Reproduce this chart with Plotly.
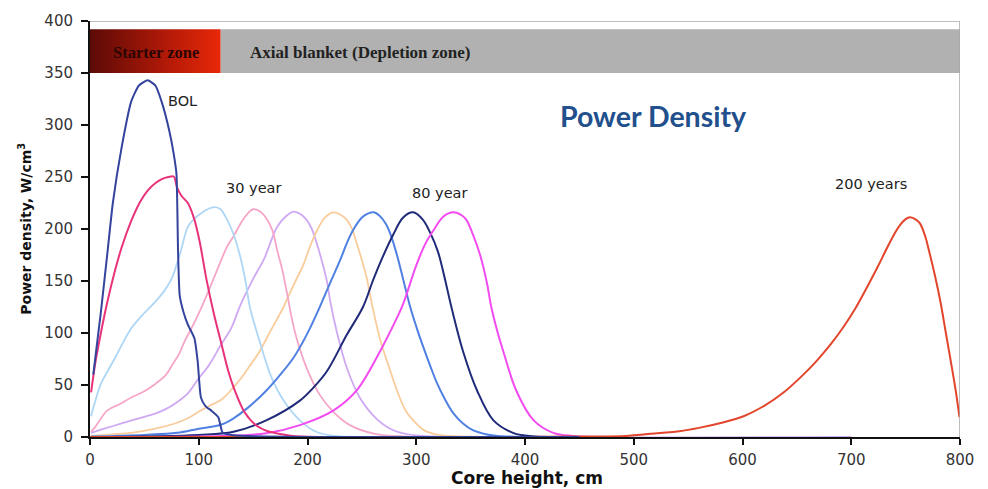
import plotly.graph_objects as go

# Axial power density profiles along the core (W/cm^3 vs. cm)
bol_x = [3, 10, 16, 21, 29, 38, 45, 53, 60, 66, 73, 77, 79.5, 81, 82.5, 86, 90, 96, 99, 102, 106, 112, 118, 122, 130, 145, 160, 200, 300, 450]
bol_y = [60, 120, 177, 225, 278, 323, 338, 343, 338, 322, 294, 272, 253, 177, 136, 120, 108, 95, 73, 38, 30, 25, 19, 4, 2, 1, 0.5, 0, 0, 0]

crimson_x = [1, 5, 10, 16, 23, 29, 38, 46, 53, 60, 66, 72, 77, 80, 84, 90, 96, 101, 107, 114, 121, 127, 133, 142, 153, 165, 172, 187, 220, 300, 450]
crimson_y = [43, 72, 100, 130, 160, 182, 208, 226, 237, 244, 248, 250, 250.5, 240, 232, 225, 209, 187, 152, 118, 89, 64, 45, 24, 11, 5, 3.5, 1, 0, 0, 0]

ltblue_x = [1, 5, 10, 16, 23, 30, 38, 48, 60, 68, 75, 83, 90, 96, 102, 108, 115, 120, 126, 132, 138, 143, 147, 156, 167, 178, 193, 208, 224, 250, 300, 450]
ltblue_y = [20, 35, 51, 63, 76, 90, 104.5, 117, 130, 140, 152, 177, 202, 210, 215, 219, 221, 219, 209, 195, 174, 150, 125, 92, 57, 35, 16, 5, 1, 0, 0, 0]

ltpink_x = [1, 5, 16, 28, 38, 50, 60, 70, 76, 82, 87, 95, 102, 110, 121, 126, 132, 140, 146, 150, 156, 163, 168, 172, 177, 181, 186, 190, 199, 211, 224, 239, 262, 290, 320, 450]
ltpink_y = [5, 10, 25.6, 32, 38, 44, 51, 60, 70, 80, 92, 108, 123.5, 143, 171, 183, 193, 208, 216, 219, 217, 209, 198, 180, 160, 139, 112, 95, 67, 41, 24, 11.4, 3, 0.5, 0, 0]

ltpurple_x = [1, 10, 29, 45, 60, 70, 78, 90, 99, 110, 120, 130, 138, 150, 160, 167, 172, 180, 187, 194, 199, 204, 208, 213, 218, 221, 227, 236, 248, 264, 280, 300, 350, 700]
ltpurple_y = [4, 7, 13, 18, 22.5, 27, 32, 42, 55, 70, 88, 105, 126, 152, 171, 190, 202, 212, 216.7, 214, 209, 200, 188, 170, 149, 130, 101, 67, 38, 17, 6, 1.5, 0, 0]

ltorange_x = [1, 20, 38, 60, 78, 90, 101, 110, 121, 132, 140, 146, 156, 166, 178, 181, 189, 196, 203, 209, 216, 224, 230, 236, 241, 245, 250, 254, 260, 267, 276, 284, 291, 300, 307, 318, 330, 360, 450]
ltorange_y = [1, 2.5, 4, 8, 13, 18, 25, 30, 36, 48, 58, 67, 82.5, 102, 125, 132, 150, 165, 185, 199, 211, 216, 214, 209, 200, 187, 170, 155, 124, 93, 64, 40, 24, 13, 6.6, 2.5, 1, 0, 0]

blue_x = [1, 50, 80, 100, 121, 132, 145, 162, 175, 187, 195, 202, 210, 215, 222, 230, 236, 242, 250, 256, 261, 266, 272, 277, 282, 286, 290, 295, 301, 307, 313, 319, 326, 334, 343, 352, 365, 375, 400, 450]
blue_y = [0.5, 2, 4, 8, 12, 18, 28, 44.5, 60, 76, 90, 104, 122, 134, 151, 170, 186, 199, 211, 215, 216, 213, 205, 193, 176, 160, 143, 123, 103, 85, 68, 52, 37, 23, 13, 6.6, 2.5, 1, 0, 0]

navy_x = [1, 100, 132, 162, 193, 205, 218, 236, 251, 260, 267, 279, 288, 297, 306, 313, 320, 325, 333, 343, 356, 371, 389, 404, 450]
navy_y = [0, 2, 5, 16, 35, 47, 63.5, 98, 125, 150, 168, 195, 211, 216, 209, 196, 178, 158, 122, 82.5, 44.5, 16, 4, 1, 0]

magenta_x = [1, 120, 162, 193, 224, 245, 267, 282, 288, 300, 308, 316, 325, 334, 342, 346, 352, 359, 365, 369, 375, 380, 392, 408, 426, 444, 470]
magenta_y = [0, 1, 3.5, 11.4, 25.6, 44.5, 83, 114, 128, 165, 185, 199, 212, 216, 213, 209, 195, 174, 148, 125, 100, 82.5, 44.5, 16, 4, 1, 0]

red_x = [0, 300, 400, 450, 493, 509, 542, 561, 580, 601, 620, 638, 655, 668, 681, 693, 704, 714, 724, 733, 740, 745, 750, 754, 758, 763, 768, 772, 777, 782, 787, 791, 796, 799.5]
red_y = [0, 0, 0, 0.5, 1, 2.5, 5.5, 9, 13.5, 20, 30, 43, 59, 73, 89, 106, 124, 143, 163, 182, 196, 204, 209.5, 211.4, 210, 205.7, 193, 177, 155, 130, 100, 76, 45, 19]

x_ticks = [0, 100, 200, 300, 400, 500, 600, 700, 800]
y_ticks = [0, 50, 100, 150, 200, 250, 300, 350, 400]

series = [
    (ltpurple_x, ltpurple_y, "#cfa8f2", 1.8, 1.0),
    (ltorange_x, ltorange_y, "#f9cc9c", 1.8, 1.0),
    (ltpink_x, ltpink_y, "#f5a6c8", 1.8, 1.0),
    (ltblue_x, ltblue_y, "#aed6f5", 1.8, 1.0),
    (blue_x, blue_y, "#4f80e2", 2.0, 1.0),
    (navy_x, navy_y, "#1f2b78", 2.0, 1.0),
    (magenta_x, magenta_y, "#f24cf0", 2.0, 1.0),
    (red_x, red_y, "#e2452c", 2.0, 1.0),
    (crimson_x, crimson_y, "#e8337a", 2.0, 0.8),
    (bol_x, bol_y, "#34439c", 2.0, 0.5),
]

fig = go.Figure()

# Starter zone band with a dark-to-bright red gradient
fig.add_trace(go.Scatter(
    x=[0, 120, 120, 0, 0], y=[350, 350, 392, 392, 350],
    mode="lines", fill="toself", line=dict(width=0),
    fillgradient=dict(type="horizontal",
                      colorscale=[[0, "#5c0a06"], [0.6, "#b41a08"], [1, "#e82808"]]),
    hoverinfo="skip", showlegend=False,
))

for xs, ys, color, width, smooth in series:
    fig.add_trace(go.Scatter(
        x=xs, y=ys, mode="lines",
        line=dict(color=color, width=width, shape="spline", smoothing=smooth),
        hoverinfo="skip", showlegend=False))

shapes = [
    # Axial blanket band
    dict(type="rect", xref="x", yref="y", x0=120, x1=800, y0=350, y1=392,
         fillcolor="#b1b1b1", line=dict(width=0), layer="below"),
    # Top and right frame lines
    dict(type="line", xref="x", yref="y", x0=0, x1=800, y0=400, y1=400,
         line=dict(color="#a8a8a8", width=1.5)),
    dict(type="line", xref="x", yref="y", x0=800, x1=800, y0=0, y1=400,
         line=dict(color="#a8a8a8", width=1.5)),
]

label_font = dict(family="DejaVu Sans, Arial", size=14.5, color="#222222")
band_font = "Liberation Serif, Times New Roman"
annotations = [
    dict(x=60.5, y=370, text="<b>Starter zone</b>", showarrow=False,
         font=dict(family=band_font, size=16.5, color="#2a0604")),
    dict(x=249, y=370, text="<b>Axial blanket (Depletion zone)</b>", showarrow=False,
         font=dict(family=band_font, size=17, color="#222222")),
    dict(x=84.6, y=323, text="BOL", showarrow=False, font=label_font),
    dict(x=150.3, y=239, text="30 year", showarrow=False, font=label_font),
    dict(x=321, y=235, text="80 year", showarrow=False, font=label_font),
    dict(x=718, y=243.5, text="200 years", showarrow=False, font=label_font),
    dict(x=518.6, y=309, text="<b>Power Density</b>", showarrow=False,
         font=dict(family="Lato, Open Sans", size=28.5, color="#22508c")),
    dict(x=0.502, y=-0.098, xref="paper", yref="paper", yanchor="middle",
         text="<b>Core height, cm</b>", showarrow=False,
         font=dict(family="DejaVu Sans, Arial", size=17, color="#111111")),
    dict(x=-0.075, y=0.5, xref="paper", yref="paper", xanchor="center", textangle=-90,
         text="<b>Power density, W/cm<sup>3</sup></b>", showarrow=False,
         font=dict(family="DejaVu Sans, Arial", size=14, color="#111111")),
]

tick_font = dict(family="DejaVu Sans, Arial", size=15, color="#333333")
fig.update_layout(
    width=988, height=489,
    margin=dict(l=90, r=28, t=15, b=52),
    paper_bgcolor="white", plot_bgcolor="white",
    shapes=shapes, annotations=annotations,
    xaxis=dict(range=[0, 800], tickvals=x_ticks, showgrid=False, zeroline=False,
               showline=True, linecolor="#111111", linewidth=2,
               ticks="outside", ticklen=6, tickcolor="#111111", tickwidth=1.5,
               ticklabelstandoff=2, tickfont=tick_font),
    yaxis=dict(range=[0, 400], tickvals=y_ticks, showgrid=False, zeroline=False,
               showline=True, linecolor="#111111", linewidth=2,
               ticks="outside", ticklen=7, tickcolor="#111111", tickwidth=1.5,
               ticklabelstandoff=5, tickfont=tick_font),
)

fig.write_html("out.html")
